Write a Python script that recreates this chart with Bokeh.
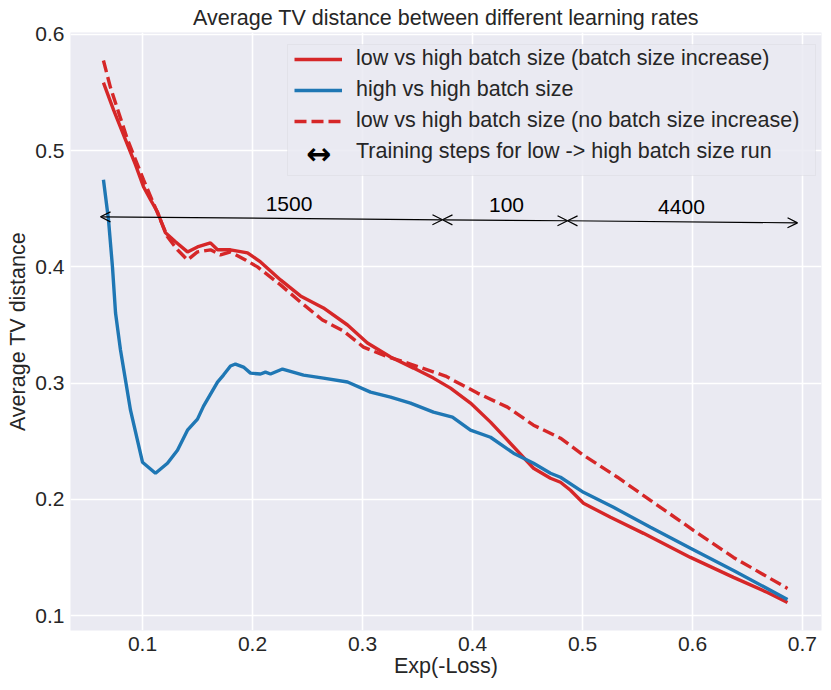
from bokeh.plotting import figure
from bokeh.models import (Legend, LegendItem, Arrow, OpenHead, Label, FixedTicker, Range1d,
                          BoxAnnotation)
from bokeh.embed import file_html
from bokeh.resources import INLINE
from bokeh.core.properties import value

# ---- data ----
inc_x = [0.0645, 0.0736, 0.0845, 0.0936, 0.1009, 0.1073, 0.1136, 0.1209, 0.1300, 0.1409,
         0.1500, 0.1618, 0.1682, 0.1800, 0.1955, 0.2073, 0.2255, 0.2436, 0.2645, 0.2864,
         0.3045, 0.3255, 0.3464, 0.3645, 0.3800, 0.3982, 0.4164, 0.4318, 0.4555, 0.4709,
         0.4800, 0.4891, 0.5009, 0.5255, 0.5555, 0.5982, 0.6373, 0.6682, 0.6864]
inc_y = [0.5586, 0.5353, 0.5095, 0.4879, 0.4690, 0.4578, 0.4474, 0.4293, 0.4216, 0.4129,
         0.4172, 0.4207, 0.4147, 0.4147, 0.4121, 0.4043, 0.3888, 0.3750, 0.3647, 0.3500,
         0.3345, 0.3224, 0.3129, 0.3043, 0.2957, 0.2828, 0.2664, 0.2509, 0.2267, 0.2181,
         0.2147, 0.2078, 0.1966, 0.1845, 0.1707, 0.1500, 0.1328, 0.1198, 0.1112]

hh_x = [0.0645, 0.0691, 0.0727, 0.0755, 0.0800, 0.0891, 0.1000, 0.1118, 0.1227, 0.1318,
        0.1409, 0.1500, 0.1555, 0.1682, 0.1736, 0.1800, 0.1845, 0.1918, 0.1982, 0.2073,
        0.2118, 0.2164, 0.2273, 0.2464, 0.2645, 0.2864, 0.3073, 0.3255, 0.3436, 0.3645,
        0.3818, 0.3982, 0.4164, 0.4373, 0.4555, 0.4709, 0.4800, 0.5009, 0.5282, 0.5618,
        0.5982, 0.6373, 0.6864]
hh_y = [0.4750, 0.4405, 0.4000, 0.3603, 0.3284, 0.2767, 0.2319, 0.2224, 0.2310, 0.2422,
        0.2595, 0.2690, 0.2802, 0.3009, 0.3069, 0.3147, 0.3164, 0.3138, 0.3086, 0.3078,
        0.3095, 0.3078, 0.3121, 0.3069, 0.3043, 0.3009, 0.2922, 0.2879, 0.2828, 0.2750,
        0.2707, 0.2595, 0.2534, 0.2397, 0.2310, 0.2224, 0.2190, 0.2060, 0.1931, 0.1759,
        0.1578, 0.1388, 0.1138]

noinc_x = [0.0645, 0.0709, 0.0864, 0.1009, 0.1136, 0.1227, 0.1318, 0.1409, 0.1500, 0.1618,
           0.1709, 0.1800, 0.1936, 0.2045, 0.2255, 0.2436, 0.2636, 0.2827, 0.3009, 0.3209,
           0.3436, 0.3755, 0.4045, 0.4318, 0.4555, 0.4800, 0.5009, 0.5318, 0.5618, 0.6009,
           0.6373, 0.6864]
noinc_y = [0.5776, 0.5543, 0.5095, 0.4750, 0.4466, 0.4259, 0.4147, 0.4060, 0.4129, 0.4147,
           0.4103, 0.4129, 0.4060, 0.4000, 0.3845, 0.3698, 0.3543, 0.3448, 0.3310, 0.3233,
           0.3164, 0.3060, 0.2914, 0.2793, 0.2638, 0.2526, 0.2379, 0.2190, 0.1991, 0.1733,
           0.1500, 0.1233]

series_labels = ["low vs high batch size (batch size increase)",
                 "high vs high batch size",
                 "low vs high batch size (no batch size increase)",
                 "Training steps for low -> high batch size run"]

arrow_x0 = [0.0618, 0.3727, 0.4864]
arrow_x1 = [0.3727, 0.4864, 0.6955]
arrow_y0 = [0.4431, 0.4405, 0.4397]
arrow_y1 = [0.4405, 0.4397, 0.4379]
step_labels = ["1500", "100", "4400"]
step_label_x = [0.2332, 0.4309, 0.5900]
step_label_y = [0.4543, 0.4534, 0.4517]

x_ticks = [0.1, 0.2, 0.3, 0.4, 0.5, 0.6, 0.7]
y_ticks = [0.1, 0.2, 0.3, 0.4, 0.5, 0.6]

RED = "#d62728"
BLUE = "#1f77b4"
TXT = "#262626"
FONT = "Liberation Sans"

p = figure(width=829, height=688, output_backend="svg", toolbar_location=None,
           x_range=Range1d(0.03455, 0.7173), y_range=Range1d(0.0871, 0.6017),
           min_border_left=70, min_border_right=8, min_border_bottom=58, min_border_top=0)

p.title.text = "Average TV distance between different learning rates"
p.title.align = "center"
p.title.text_font = FONT
p.title.text_font_size = "21.5px"
p.title.text_font_style = "normal"
p.title.text_color = TXT
p.title.standoff = 6

p.background_fill_color = "#EAEAF2"
p.border_fill_color = "white"
p.outline_line_color = None

for ax in (p.xaxis, p.yaxis):
    ax.axis_line_color = None
    ax.major_tick_line_color = None
    ax.minor_tick_line_color = None
    ax.major_tick_out = 0
    ax.major_tick_in = 0
    ax.minor_tick_out = 0
    ax.minor_tick_in = 0
    ax.major_label_text_font = FONT
    ax.major_label_text_font_size = "21px"
    ax.major_label_text_color = TXT
    ax.axis_label_text_font = FONT
    ax.axis_label_text_font_size = "21.5px"
    ax.axis_label_text_font_style = "normal"
    ax.axis_label_text_color = TXT
p.xaxis.ticker = FixedTicker(ticks=x_ticks)
p.yaxis.ticker = FixedTicker(ticks=y_ticks)
p.xaxis.axis_label = "Exp(-Loss)"
p.yaxis.axis_label = "Average TV distance"
p.xaxis.major_label_standoff = 6
p.yaxis.major_label_standoff = 6
p.xaxis.axis_label_standoff = 0
p.yaxis.axis_label_standoff = 2

p.grid.grid_line_color = "white"
p.grid.grid_line_width = 1.6
p.xgrid.ticker = FixedTicker(ticks=x_ticks)
p.ygrid.ticker = FixedTicker(ticks=y_ticks)

r_inc = p.line(inc_x, inc_y, line_color=RED, line_width=3.4)
r_hh = p.line(hh_x, hh_y, line_color=BLUE, line_width=3.4)
r_no = p.line(noinc_x, noinc_y, line_color=RED, line_width=3.4, line_dash="12 5")
r_dummy = p.line(x=[], y=[], line_alpha=0)

for i in range(len(arrow_x0)):
    p.add_layout(Arrow(x_start=arrow_x0[i], y_start=arrow_y0[i], x_end=arrow_x1[i], y_end=arrow_y1[i],
                       start=OpenHead(size=10, line_width=1.2, line_color="black"),
                       end=OpenHead(size=10, line_width=1.2, line_color="black"),
                       line_width=1.2, line_color="black"))

p.text(x=step_label_x, y=step_label_y, text=step_labels, text_align="center",
       text_baseline="middle", text_font=value(FONT), text_font_size="21px", text_color="black")

# legend frame (screen units relative to the plot frame)
LEG_X, LEG_Y, LEG_W, LEG_H = 217, 455, 528, 131
legend_box = BoxAnnotation(left=LEG_X, right=LEG_X + LEG_W, bottom=LEG_Y, top=LEG_Y + LEG_H,
                           left_units="screen", right_units="screen",
                           bottom_units="screen", top_units="screen",
                           fill_color="#EAEAF2", fill_alpha=0.85,
                           line_color="#CFCFD6", line_width=1, level="underlay")
p.add_layout(legend_box)

legend = Legend(items=[LegendItem(label=series_labels[0], renderers=[r_inc]),
                       LegendItem(label=series_labels[1], renderers=[r_hh]),
                       LegendItem(label=series_labels[2], renderers=[r_no]),
                       LegendItem(label=series_labels[3], renderers=[r_dummy])],
                location=(LEG_X + 7, LEG_Y + 11))
legend.label_text_font = FONT
legend.label_text_font_size = "21.5px"
legend.label_text_color = TXT
legend.glyph_width = 48
legend.glyph_height = 22
legend.label_height = 22
legend.spacing = 6
legend.padding = 8
legend.label_standoff = 14
legend.margin = 0
legend.background_fill_alpha = 0
legend.border_line_color = None
p.add_layout(legend, "center")

arrow_glyph = Label(x=LEG_X + 31, y=LEG_Y + 22, x_units="screen", y_units="screen",
                    text="\u2194", text_font="DejaVu Sans", text_font_size="30px",
                    text_font_style="bold", text_color="black", text_align="center",
                    text_baseline="middle", level="overlay")
p.add_layout(arrow_glyph)

open("out.html", "w").write(file_html(p, INLINE))
